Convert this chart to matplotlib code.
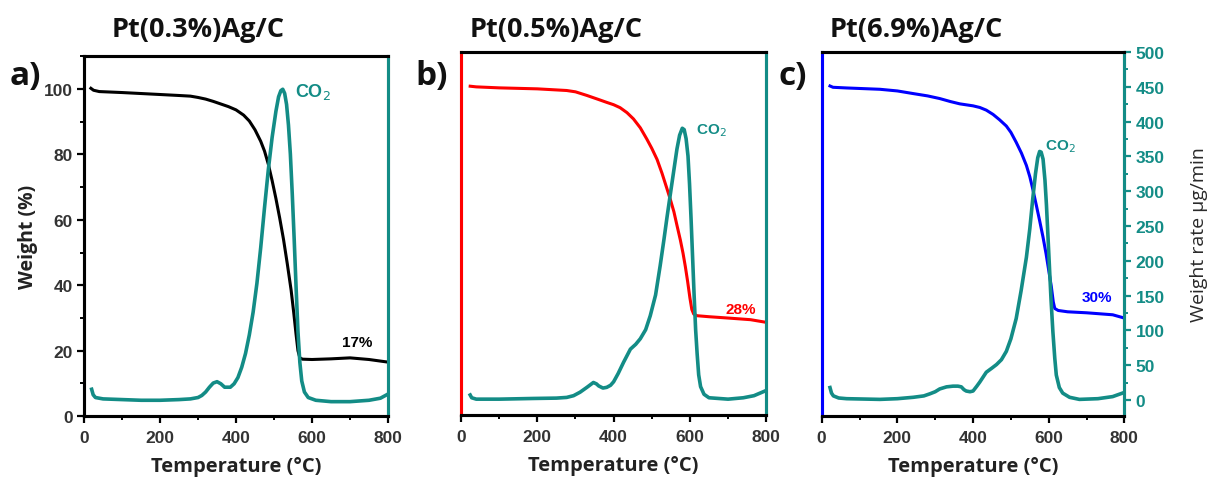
import matplotlib
matplotlib.use("Agg")
import matplotlib.pyplot as plt
from matplotlib.ticker import MultipleLocator

TEAL = "#138c86"

# ---------- TGA data: weight (%) vs temperature ----------
temp_a = [18, 25, 40, 100, 150, 200, 250, 280, 300, 320, 340, 360, 380, 400, 420,
          435, 450, 465, 475, 485, 495, 505, 515, 525, 535, 545, 552, 558, 563, 568,
          575, 600, 650, 700, 750, 800]
weight_a = [100.2, 99.6, 99.2, 98.9, 98.6, 98.3, 98.0, 97.8, 97.4, 96.9, 96.2, 95.4,
            94.6, 93.6, 92.0, 90.2, 87.5, 84.0, 81.0, 77.0, 72.0, 66.5, 60.5, 54.0,
            46.5, 38.5, 31.5, 25.0, 20.0, 17.8, 17.4, 17.3, 17.5, 17.8, 17.3, 16.5]

temp_b = [24, 40, 100, 200, 277, 300, 330, 360, 382, 400, 417, 435, 452, 470, 487,
          500, 514, 527, 540, 550, 558, 566, 575, 582, 588, 594, 600, 605, 610, 619,
          650, 700, 759, 800]
weight_b = [99.6, 99.4, 99.1, 98.8, 98.3, 97.9, 96.8, 95.6, 94.7, 94.0, 93.1, 91.6,
            89.7, 87.0, 83.6, 80.8, 77.4, 73.2, 68.5, 64.8, 61.6, 57.5, 53.0, 49.0,
            45.0, 40.5, 35.5, 32.0, 30.6, 30.1, 29.8, 29.4, 28.9, 28.1]

temp_c = [22, 30, 66, 154, 200, 242, 280, 312, 340, 365, 400, 418, 435, 453, 470,
          488, 500, 514, 528, 541, 550, 558, 567, 576, 585, 593, 600, 607, 612, 616,
          625, 650, 700, 769, 800]
weight_c = [99.7, 99.3, 99.1, 98.7, 98.2, 97.4, 96.7, 95.9, 95.0, 94.3, 93.7, 93.2,
            92.4, 91.1, 89.5, 87.6, 85.7, 82.7, 79.4, 75.7, 72.3, 68.5, 63.8, 59.0,
            54.0, 49.0, 44.0, 39.0, 34.5, 32.5, 31.9, 31.5, 31.2, 30.6, 29.6]

# ---------- CO2 weight rate (ug/min) ----------
co2_temp_a = [20, 24, 30, 50, 100, 150, 200, 250, 280, 300, 310, 320, 330, 340, 350,
              360, 370, 385, 395, 405, 415, 425, 435, 445, 455, 465, 475, 485, 495,
              505, 512, 518, 523, 528, 533, 538, 543, 548, 553, 558, 563, 568, 573,
              580, 590, 610, 650, 700, 750, 780, 800]
co2_a = [16, 8, 4, 2, 1, 0, 0, 1, 2, 4, 7, 12, 19, 25, 27, 24, 19, 19, 24, 33, 48, 68,
         95, 128, 170, 222, 280, 335, 382, 420, 441, 450, 452, 446, 430, 400, 358, 300,
         235, 165, 100, 55, 28, 12, 4, 0, -2, -2, 0, 3, 9]

co2_temp_b = [24, 28, 40, 100, 190, 250, 277, 295, 312, 330, 347, 355, 361, 372, 382,
              392, 400, 412, 426, 444, 458, 470, 484, 496, 510, 522, 532, 540, 550,
              558, 566, 573, 580, 585, 590, 595, 599, 603, 607, 611, 615, 619, 623,
              628, 637, 650, 700, 740, 768, 798]
co2_b = [6, 2, 0, 0, 1, 1.5, 2.5, 5, 10, 17, 24, 22, 19, 16, 17, 20, 25, 37, 53, 72,
         79, 87, 100, 120, 150, 192, 230, 262, 300, 330, 360, 380, 390, 388, 375, 350,
         310, 260, 205, 150, 100, 65, 35, 18, 7, 2, 0, 2, 5, 12]

co2_temp_c = [22, 26, 31, 45, 66, 154, 200, 242, 270, 286, 300, 312, 330, 347, 360,
              369, 376, 382, 392, 400, 410, 418, 435, 450, 462, 475, 488, 500, 514,
              527, 541, 550, 558, 565, 571, 576, 580, 585, 590, 594, 598, 602, 606,
              611, 616, 620, 628, 637, 655, 681, 730, 769, 800]
co2_c = [18, 10, 6, 3, 2, 1, 2, 4, 6, 9, 12, 16, 19, 20, 20, 19, 15, 13, 12, 13, 20,
         26, 40, 46, 51, 58, 70, 88, 117, 157, 205, 246, 290, 325, 348, 357, 356, 346,
         316, 280, 235, 190, 145, 98, 60, 36, 18, 10, 4, 1, 2, 5, 11]

titles = ["Pt(0.3%)Ag/C", "Pt(0.5%)Ag/C", "Pt(6.9%)Ag/C"]
letters = ["a)", "b)", "c)"]
residues = ["17%", "28%", "30%"]
colors = ["black", "red", "blue"]

panels = [
    (temp_a, weight_a, co2_temp_a, co2_a),
    (temp_b, weight_b, co2_temp_b, co2_b),
    (temp_c, weight_c, co2_temp_c, co2_c),
]

# figure-fraction boxes [left, bottom, width, height]
boxes = [
    [0.0694, 0.140, 0.251, 0.742],
    [0.3807, 0.142, 0.252, 0.749],
    [0.6785, 0.140, 0.250, 0.751],
]
title_x = [0.1635, 0.459, 0.757]
letter_x = [0.008, 0.343, 0.643]

# (x, y) of residue and CO2 labels in data units
residue_pos = [(720, 22.5), (732, 32.0), (728, 36.0)]
co2_pos = [(555, 450), (615, 388), (590, 365)]
co2_size = [13, 11, 11]

tick_font = {"family": "Liberation Sans", "weight": "bold", "size": 12.5}

fig = plt.figure(figsize=(12.11, 4.85), dpi=100)

for i, (box, (t, w, ct, cv)) in enumerate(zip(boxes, panels)):
    ax = fig.add_axes(box)
    ax2 = ax.twinx()

    ax.plot(t, w, color=colors[i], lw=2.2)
    ax2.plot(ct, cv, color=TEAL, lw=2.6)

    ax.set_xlim(0, 800)
    ax.set_ylim(0, 110)
    ax2.set_ylim(-23, 500)

    ax.xaxis.set_major_locator(MultipleLocator(200))
    ax.xaxis.set_minor_locator(MultipleLocator(100))
    ax.tick_params(axis="x", which="major", direction="out", length=5, width=1.6,
                   pad=5, labelcolor="#333333")
    ax.tick_params(axis="x", which="minor", direction="out", length=3, width=1.4)
    for lab in ax.get_xticklabels():
        lab.set_fontproperties(tick_font)

    ax.set_xlabel("Temperature (°C)", family="Open Sans", fontweight="bold",
                  fontsize=14.5, color="#222222", labelpad=8)

    for s in ax.spines.values():
        s.set_linewidth(2.2)
    for s in ax2.spines.values():
        s.set_linewidth(2.2)
    ax2.spines["right"].set_color(TEAL)
    ax2.spines["left"].set_color(colors[i])
    ax.spines["left"].set_color(colors[i])

    if i == 0:
        ax.yaxis.set_major_locator(MultipleLocator(20))
        ax.yaxis.set_minor_locator(MultipleLocator(10))
        ax.tick_params(axis="y", which="major", direction="out", length=5, width=1.6,
                       pad=3, labelcolor="#333333")
        ax.tick_params(axis="y", which="minor", direction="out", length=3, width=1.4)
        for lab in ax.get_yticklabels():
            lab.set_fontproperties(tick_font)
        ax.set_ylabel("Weight (%)", family="Open Sans", fontweight="bold",
                      fontsize=14, color="#222222", labelpad=4)
    else:
        ax.tick_params(axis="y", which="both", left=False, labelleft=False)

    if i == 2:
        ax2.yaxis.set_major_locator(MultipleLocator(50))
        ax2.yaxis.set_minor_locator(MultipleLocator(25))
        ax2.tick_params(axis="y", which="major", direction="out", length=5, width=1.6,
                        color=TEAL, labelcolor=TEAL, pad=3)
        ax2.tick_params(axis="y", which="minor", direction="out", length=3, width=1.4,
                        color=TEAL)
        for lab in ax2.get_yticklabels():
            lab.set_fontproperties(tick_font)
        ax2.set_ylabel("Weight rate µg/min", family="Open Sans", fontsize=14,
                       color="#2a2a2a", labelpad=18)
    else:
        ax2.tick_params(axis="y", which="both", right=False, labelright=False)

    ax.text(*residue_pos[i], residues[i], color=colors[i], fontsize=11,
            family="Liberation Sans", fontweight="bold", ha="center", va="center")
    ax2.text(*co2_pos[i], "CO$_2$", color=TEAL, fontsize=co2_size[i],
             family="Liberation Sans", fontweight="bold", ha="left", va="center")

    fig.text(title_x[i], 0.938, titles[i], family="Open Sans",
             fontweight="bold", fontsize=19.5, ha="center", va="center", color="#111111")
    fig.text(letter_x[i], 0.843, letters[i], family="Open Sans", fontweight="bold",
             fontsize=24, ha="left", va="center", color="#111111")

fig.savefig("out.png", dpi=100)
